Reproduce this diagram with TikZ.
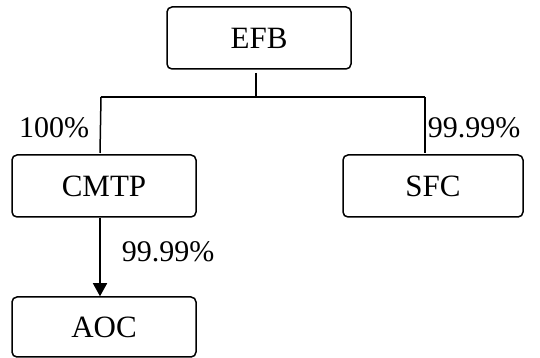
\documentclass[tikz,border=0pt]{standalone}
\usepackage{fontspec}
\setmainfont{Liberation Serif}
\usetikzlibrary{arrows.meta}
\begin{document}
\begin{tikzpicture}[x=1pt,y=1pt,
  box/.style={draw,line width=1.5pt,rounded corners=5pt,inner sep=0pt,font=\fontsize{31}{35}\selectfont},
  lbl/.style={inner sep=0pt,font=\fontsize{30}{35}\selectfont},
  conn/.style={line width=1.5pt}]
\useasboundingbox (0,0) rectangle (540,358);
\node[box,minimum width=184pt,minimum height=62pt] (EFB) at (259,320) {EFB};
\node[box,minimum width=184pt,minimum height=62pt] (CMTP) at (104,172) {CMTP};
\node[box,minimum width=180pt,minimum height=62pt] (SFC) at (433,172) {SFC};
\node[box,minimum width=184pt,minimum height=60pt] (AOC) at (104,31) {AOC};
\coordinate (s1) at (256,285);
\coordinate (j) at (256,261);
\coordinate (jl) at (101,261);
\coordinate (jr) at (425,261);
\coordinate (cl) at (100,205);
\coordinate (cr) at (425,205);
\draw[conn] (s1) -- (j);
\draw[conn] (jl) -- (jr);
\draw[conn] (jl |- j) -- (cl);
\draw[conn] (jr) -- (cr);
\draw[conn,-{Triangle[length=13pt,width=14pt]}] (CMTP.south -| cl) -- (AOC.north -| cl);
\node[lbl] (l1) at (54,230) {100\%};
\node[lbl] (l2) at (474,230) {99.99\%};
\node[lbl] (l3) at (168,106) {99.99\%};
\end{tikzpicture}
\end{document}
